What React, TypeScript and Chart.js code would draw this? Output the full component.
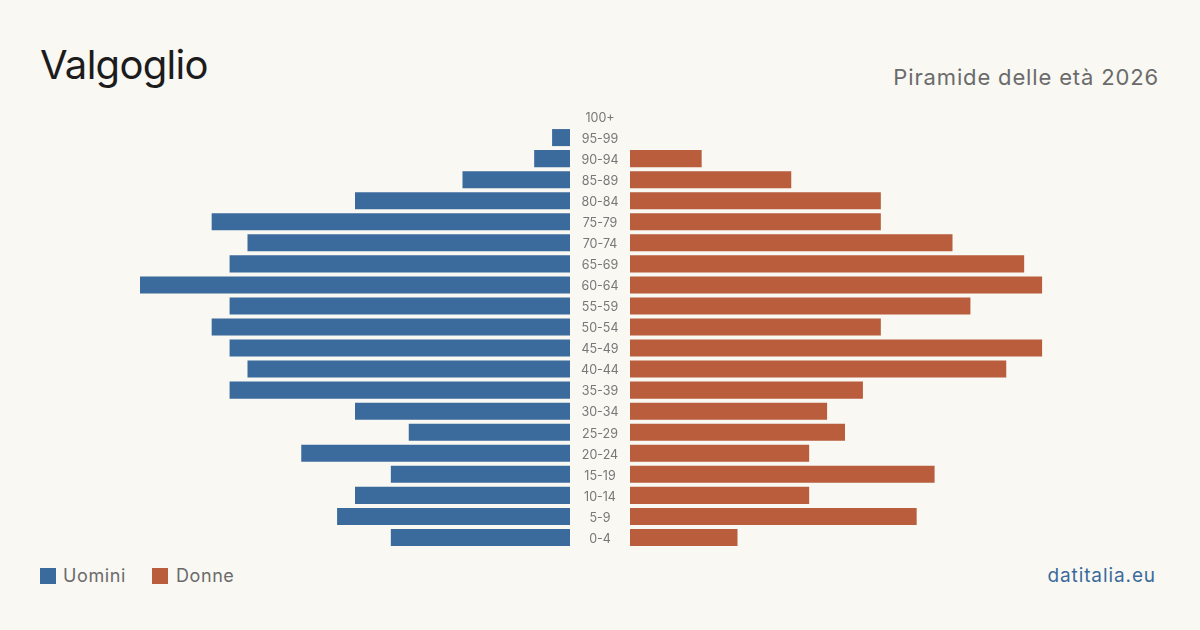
import React, { useEffect, useRef } from "react";
import { Chart, registerables } from "chart.js";

Chart.register(...registerables);

const ageGroups = ["100+", "95-99", "90-94", "85-89", "80-84", "75-79", "70-74", "65-69", "60-64", "55-59", "50-54", "45-49", "40-44", "35-39", "30-34", "25-29", "20-24", "15-19", "10-14", "5-9", "0-4"];
const men = [0, 1, 2, 6, 12, 20, 18, 19, 24, 19, 20, 19, 18, 19, 12, 9, 15, 10, 12, 13, 10];
const women = [0, 0, 4, 9, 14, 14, 18, 22, 23, 19, 14, 23, 21, 13, 11, 12, 10, 17, 10, 16, 6];
const axisMax = Math.max(...men, ...women);

const BG = "#f9f8f3";
const BLUE = "#3b6b9c";
const ORANGE = "#b95d3d";
const FONT = "Inter, 'Noto Sans', sans-serif";

const PLOT_TOP = 106;
const PLOT_H = 442;

const centerLabels = {
  id: "centerLabels",
  afterDraw(chart: any) {
    const { ctx, chartArea, scales } = chart;
    ctx.save();
    ctx.fillStyle = "#777777";
    ctx.font = `12.5px ${FONT}`;
    ctx.textAlign = "center";
    ctx.textBaseline = "middle";
    ageGroups.forEach((lab, i) => {
      ctx.fillText(lab, chartArea.left - 30, scales.y.getPixelForValue(i) + 1.5);
    });
    ctx.restore();
  },
};

function makeConfig(values: number[], color: string, reverse: boolean, withLabels: boolean): any {
  return {
    type: "bar",
    data: {
      labels: ageGroups,
      datasets: [
        {
          data: values,
          backgroundColor: color,
          borderWidth: 0,
          categoryPercentage: 1,
          barPercentage: 0.81,
        },
      ],
    },
    options: {
      indexAxis: "y",
      responsive: false,
      animation: false,
      layout: { padding: { left: withLabels ? 60 : 0, right: 0, top: 0, bottom: 0 } },
      plugins: { legend: { display: false }, tooltip: { enabled: false } },
      scales: {
        x: { display: false, min: 0, max: axisMax, reverse },
        y: { display: false },
      },
    },
    plugins: withLabels ? [centerLabels] : [],
  };
}

export default function App() {
  const leftRef = useRef<HTMLCanvasElement>(null);
  const rightRef = useRef<HTMLCanvasElement>(null);

  useEffect(() => {
    document.body.style.margin = "0";
    const l = new Chart(leftRef.current!, makeConfig(men, BLUE, true, false));
    const r = new Chart(rightRef.current!, makeConfig(women, ORANGE, false, true));
    return () => {
      l.destroy();
      r.destroy();
    };
  }, []);

  return (
    <div style={{ position: "fixed", left: 0, top: 0, width: 1200, height: 630, background: BG, fontFamily: FONT, overflow: "hidden" }}>
      <div style={{ position: "absolute", left: 40, top: 40, fontSize: 40, color: "#1c1c1c", lineHeight: "50px", letterSpacing: -0.7 }}>Valgoglio</div>
      <div style={{ position: "absolute", right: 41, top: 62, fontSize: 22, color: "#6b6b6b", lineHeight: "30px", letterSpacing: 0.85 }}>Piramide delle età 2026</div>
      <canvas ref={leftRef} width={430} height={PLOT_H} style={{ position: "absolute", left: 140, top: PLOT_TOP, width: 430, height: PLOT_H }} />
      <canvas ref={rightRef} width={490} height={PLOT_H} style={{ position: "absolute", left: 570, top: PLOT_TOP, width: 490, height: PLOT_H }} />
      <div style={{ position: "absolute", left: 40, top: 565, display: "flex", alignItems: "center", fontSize: 18, color: "#6b6b6b", lineHeight: "22px", letterSpacing: 0.6 }}>
        <span style={{ width: 16, height: 16, background: BLUE, display: "inline-block", marginRight: 7 }} />
        <span style={{ marginRight: 26 }}>Uomini</span>
        <span style={{ width: 16, height: 16, background: ORANGE, display: "inline-block", marginRight: 8 }} />
        <span>Donne</span>
      </div>
      <div style={{ position: "absolute", right: 44, top: 564, fontSize: 19, color: BLUE, lineHeight: "24px", letterSpacing: 0.9 }}>datitalia.eu</div>
    </div>
  );
}
